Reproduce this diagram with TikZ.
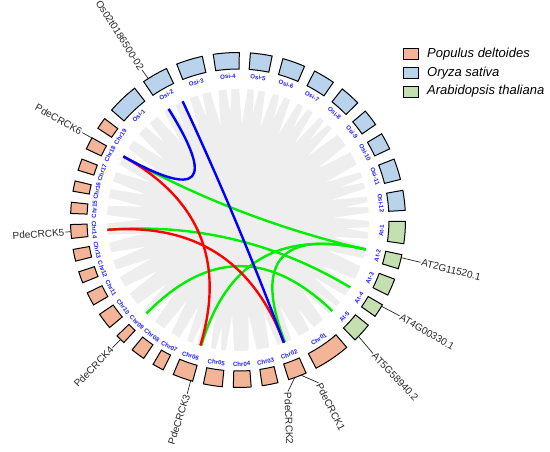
\documentclass[tikz,border=0pt]{standalone}
\usepackage{fontspec}
\setmainfont{Liberation Sans}
\definecolor{pop}{RGB}{244,180,152}
\definecolor{osa}{RGB}{186,211,237}
\definecolor{ath}{RGB}{197,224,176}
\definecolor{lgray}{RGB}{238,238,238}
\definecolor{chrblue}{RGB}{30,30,255}
\definecolor{lblue}{RGB}{0,0,255}
\definecolor{lred}{RGB}{255,0,0}
\definecolor{lgreen}{RGB}{0,238,0}
\newcommand\mylink[4]{%
  \coordinate (#4a) at (#2:131pt);
  \coordinate (#4b) at (#3:131pt);
  \draw[lnk,#1] (#4a) .. controls (#2:43.67pt) and (#3:43.67pt) .. (#4b);}
\begin{document}
\begin{tikzpicture}[x=1pt,y=1pt,
  block/.style={draw=black, line width=1pt, line join=miter},
  chrlab/.style={text=chrblue, font=\fontsize{6.1}{7}\selectfont\bfseries, inner sep=0pt},
  lnk/.style={line width=2.4pt},
  lead/.style={draw=black!85, line width=0.7pt},
  genelab/.style={font=\fontsize{10}{12}\selectfont, inner sep=1pt, text=black!85},
  legbox/.style={draw=black, line width=0.9pt, minimum width=15pt, minimum height=11pt, inner sep=0pt},
  legtxt/.style={font=\fontsize{13}{15}\selectfont\itshape, anchor=west, inner sep=0pt}]
\useasboundingbox (-238,-232) rectangle (312,220);
\fill[lgray] (0,0) circle[radius=131pt];
\gdef\cur{139.0}
\foreach \nm/\w/\col in {Osi-1/10.90/osa, Osi-2/9.04/osa, Osi-3/9.16/osa, Osi-4/8.94/osa,
  Osi-5/7.53/osa, Osi-6/7.85/osa, Osi-7/7.48/osa, Osi-8/7.15/osa, Osi-9/5.79/osa,
  Osi-10/5.84/osa, Osi-11/7.30/osa, Osi-12/6.92/osa,
  At-1/7.65/ath, At-2/4.96/ath, At-3/5.92/ath, At-4/4.68/ath, At-5/6.80/ath,
  Chr01/12.71/pop, Chr02/6.37/pop, Chr03/5.49/pop, Chr04/6.12/pop, Chr05/6.52/pop,
  Chr06/7.02/pop, Chr07/3.93/pop, Chr08/4.91/pop, Chr09/3.27/pop, Chr10/5.69/pop,
  Chr11/4.66/pop, Chr12/3.98/pop, Chr13/4.10/pop, Chr14/4.76/pop, Chr15/3.85/pop,
  Chr16/3.60/pop, Chr17/4.03/pop, Chr18/4.28/pop, Chr19/4.05/pop}{
  \pgfmathsetmacro\bsA{\cur}
  \pgfmathsetmacro\bsB{\cur-\w}
  \pgfmathsetmacro\bsC{\cur-\w/2}
  \pgfmathsetmacro\bsG{\cur-\w-1.9}
  \pgfmathsetmacro\bsR{sin(\bsC)>0 ? \bsC-90 : \bsC+90}
  \filldraw[block, fill=\col] (\bsA:151pt) arc[start angle=\bsA, end angle=\bsB, radius=151pt]
     -- (\bsB:167.5pt) arc[start angle=\bsB, end angle=\bsA, radius=167.5pt] -- cycle;
  \node[chrlab, rotate=\bsR] (L\nm) at (\bsC:144pt) {\nm};
  \fill[white] (\bsG+1.9:133pt) -- (\bsG:96pt) -- (\bsG-1.9:133pt) -- cycle;
  \ifdim\w pt>6.5pt
    \fill[white] (\bsC+1.2:133pt) -- (\bsC:108pt) -- (\bsC-1.2:133pt) -- cycle;
  \fi
  \pgfmathsetmacro\bsN{\cur-\w-3.8}
  \global\let\cur\bsN
}
% links
\mylink{lgreen}{151}{-13}{G1}
\mylink{lgreen}{184.3}{-31}{G2}
\mylink{lgreen}{-134.4}{-44}{G3}
\mylink{lgreen}{-106.3}{-13}{G4}
\mylink{lgreen}{-69}{-13}{G5}
\mylink{lred}{151}{-106.7}{R1}
\mylink{lred}{184.3}{-69.5}{R2}
\mylink{lblue}{122}{151}{B1}
\mylink{lblue}{115}{-69.5}{B2}
% gene labels
\node[genelab, anchor=east, rotate=-57.4] (g1) at (122.6:178pt) {Os02t0186500-02};
\node[genelab, anchor=east, rotate=-29.3] (g2) at (150.7:178.5pt) {PdeCRCK6};
\node[genelab, anchor=east, rotate=4] (g3) at (-176:173pt) {PdeCRCK5};
\node[genelab, anchor=east, rotate=45.5] (g4) at (-134.5:179pt) {PdeCRCK4};
\node[genelab, anchor=east, rotate=72] (g5) at (-106.3:181pt) {PdeCRCK3};
\node[genelab, anchor=west, rotate=-88] (g6) at (50,-171.5) {PdeCRCK2};
\node[genelab, anchor=west, rotate=-63] (g7) at (80.5,-162.8) {PdeCRCK1};
\node[genelab, anchor=west, rotate=-46] (g8) at (135,-133.5) {AT5G58940.2};
\node[genelab, anchor=west, rotate=-30.5] (g9) at (161.5,-95.8) {AT4G00330.1};
\node[genelab, anchor=west, rotate=-14] (g10) at (182.5,-42.3) {AT2G11520.1};
\coordinate (e1) at (122.4:167.5pt);
\coordinate (e2) at (150.7:167.5pt);
\coordinate (e3) at (-176:167.5pt);
\coordinate (e4) at (-134.5:167.5pt);
\coordinate (e5) at (-106.4:167.5pt);
\coordinate (e6) at (-70.2:167.5pt);
\coordinate (e7) at (-67.9:167.5pt);
\coordinate (e8) at (-44:167.5pt);
\coordinate (e9) at (-31:167.5pt);
\coordinate (e10) at (-13:167.5pt);
\draw[lead] (e1) -- (g1.east);
\draw[lead] (e2) -- (g2.east);
\draw[lead] (e3) -- (g3.east);
\draw[lead] (e4) -- (g4.east);
\draw[lead] (e5) -- (g5.east);
\draw[lead] (e6) -- (g6.west);
\draw[lead] (e7) -- (g7.west);
\draw[lead] (e8) -- (g8.west);
\draw[lead] (e9) -- (g9.west);
\draw[lead] (e10) -- (g10.west);
% legend
\node[legbox, fill=pop] (k1) at (172.5,166) {};
\node[legtxt] (t1) at (189,166) {Populus deltoides};
\node[legbox, fill=osa] (k2) at (172.5,147) {};
\node[legtxt] (t2) at (189,147) {Oryza sativa};
\node[legbox, fill=ath] (k3) at (172.5,128.5) {};
\node[legtxt] (t3) at (189,128.5) {Arabidopsis thaliana};
\end{tikzpicture}
\end{document}
